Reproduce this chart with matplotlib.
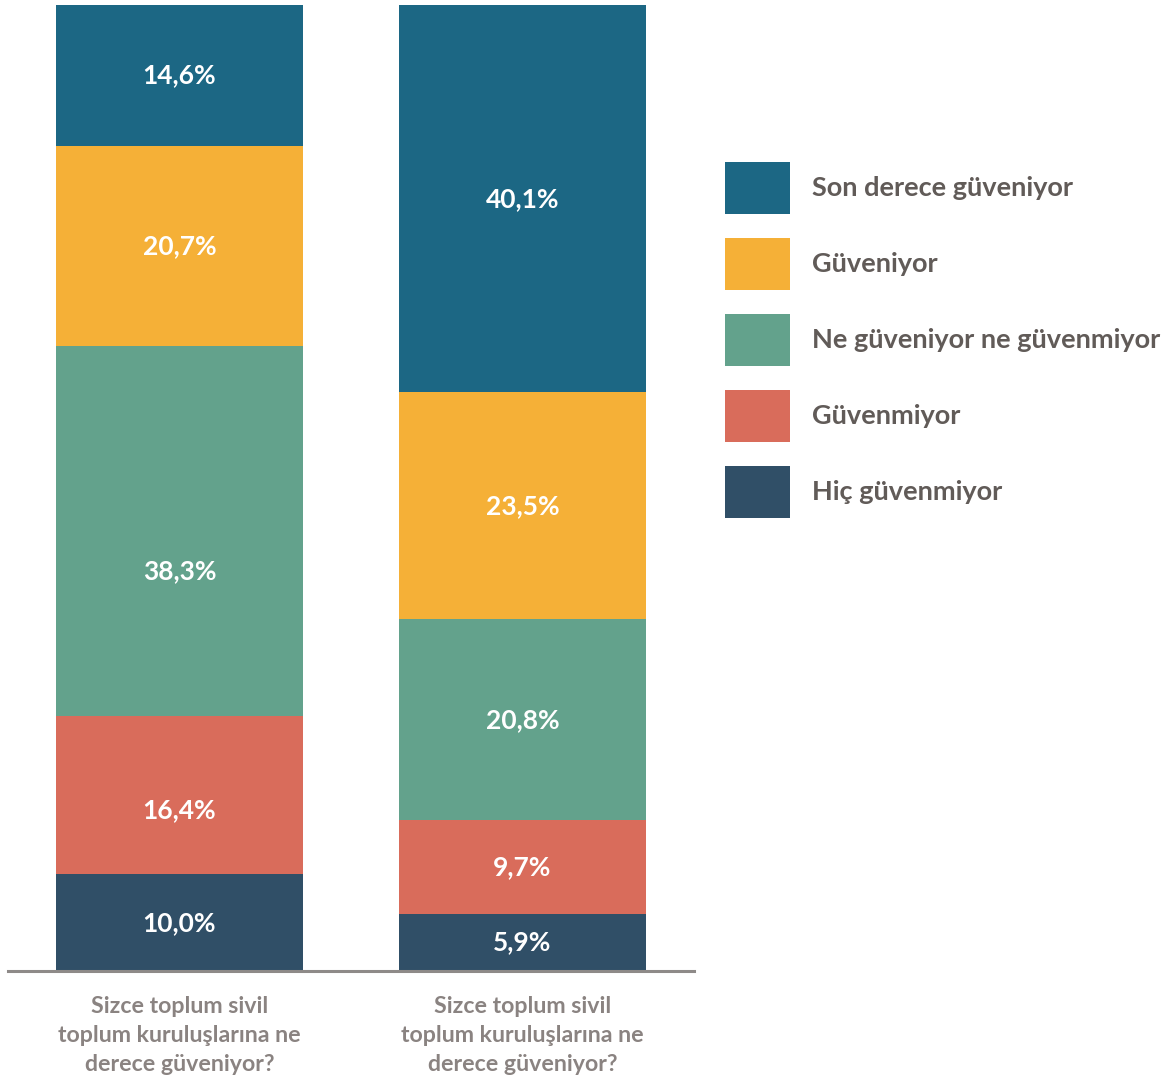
import matplotlib
matplotlib.use("Agg")
import matplotlib.pyplot as plt
import numpy as np

plt.rcParams['font.family'] = ['Lato', 'DejaVu Sans']

categories = ["Sizce toplum sivil\ntoplum kuruluşlarına ne\nderece güveniyor?",
              "Sizce toplum sivil\ntoplum kuruluşlarına ne\nderece güveniyor?"]
series_names = ["Son derece güveniyor", "Güveniyor", "Ne güveniyor ne güvenmiyor",
                "Güvenmiyor", "Hiç güvenmiyor"]
son_derece = [14.6, 40.1]
guveniyor = [20.7, 23.5]
ne_ne = [38.3, 20.8]
guvenmiyor = [16.4, 9.7]
hic = [10.0, 5.9]
colors = ["#1C6784", "#F5B037", "#63A28C", "#D96C5B", "#304F67"]

# stacked from bottom: hic first
stack = [hic, guvenmiyor, ne_ne, guveniyor, son_derece]
stack_colors = colors[::-1]
stack_names = series_names[::-1]

# label nudges (points, vertical) like in the original chart
nudge = {("Ne güveniyor ne güvenmiyor", 0): -29, ("Güvenmiyor", 0): -11}

fig = plt.figure(figsize=(11.72, 10.83), dpi=100)
ax = fig.add_axes([8 / 1172, 112 / 1083, 686 / 1172, 966 / 1083])

x = np.arange(len(categories))
bottom = np.zeros(len(categories))
handles = {}
for vals, c, name in zip(stack, stack_colors, stack_names):
    vals = np.array(vals)
    b = ax.bar(x, vals, width=0.72, bottom=bottom, color=c, label=name)
    handles[name] = b
    for xi, v, bt in zip(x, vals, bottom):
        ax.annotate(f"{v:.1f}".replace(".", ",") + "%", (xi, bt + v / 2),
                    xytext=(0, nudge.get((name, xi), 0)), textcoords="offset points",
                    ha="center", va="center", color="white", fontsize=19, fontweight="bold")
    bottom += vals

ax.set_xlim(-0.5, 1.5)
ax.set_ylim(0, 100)
ax.set_yticks([])
ax.set_xticks(x)
ax.set_xticklabels(categories, fontsize=16.7, fontweight="bold", color="#8A8381", linespacing=1.47)
ax.tick_params(axis="x", length=0, pad=18)
for s in ["top", "right", "left"]:
    ax.spines[s].set_visible(False)
ax.spines["bottom"].set_color("#8E8A88")
ax.spines["bottom"].set_linewidth(2.2)

fs = 19.5
fs_px = fs * 100 / 72
hh = (52 / fs_px - 0.245) / 0.65
leg = fig.legend([handles[n] for n in series_names], series_names,
                 loc="upper left", bbox_to_anchor=(725 / 1172, (1083 - 162) / 1083),
                 frameon=False, prop={"weight": "bold", "size": fs},
                 handlelength=65 / fs_px, handleheight=hh,
                 labelspacing=24 / fs_px, handletextpad=22 / fs_px, borderpad=0,
                 borderaxespad=0)
for t in leg.get_texts():
    t.set_color("#615B58")

fig.savefig("out.png", dpi=100)
